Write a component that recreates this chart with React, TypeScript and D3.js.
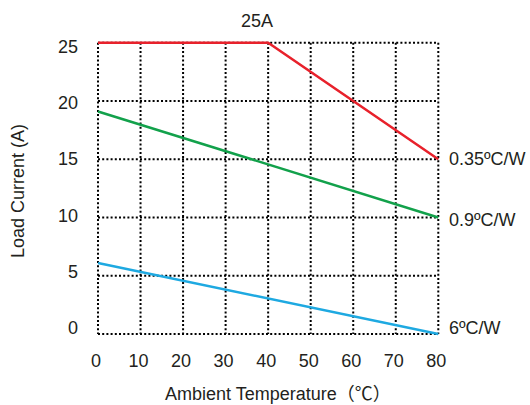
import React from "react";
import * as d3 from "d3";

const temps = [0, 10, 20, 30, 40, 50, 60, 70, 80];
const currentTicks = [0, 5, 10, 15, 20, 25];
const redX = [0, 40, 80];
const redY = [25, 25, 15];
const greenX = [0, 80];
const greenY = [19.1, 10];
const blueX = [0, 80];
const blueY = [6.1, 0];
const seriesLabels = ["0.35ºC/W", "0.9ºC/W", "6ºC/W"];
const title = "25A";

const W = 530, H = 405;
const font = "'Liberation Sans', Arial, 'Noto Sans CJK SC', sans-serif";

export default function App() {
  const x = d3.scaleLinear().domain([0, 80]).range([98, 438.3]);
  const y = d3.scaleLinear().domain([0, 25]).range([334, 42.7]);
  const yLab = d3.scaleLinear().domain([0, 25]).range([328, 47]);
  const line = d3.line<[number, number]>().x(d => x(d[0])).y(d => y(d[1]));
  const series = [
    { xs: redX, ys: redY, color: "#e8212b" },
    { xs: greenX, ys: greenY, color: "#12a14b" },
    { xs: blueX, ys: blueY, color: "#1ea9e1" },
  ];
  const labelY = [y(15), y(10) + 3, y(0) - 6];
  return (
    <svg width={W} height={H} style={{ position: "absolute", left: 0, top: 0, background: "#fff" }}>
      <g stroke="#000" strokeWidth={2} strokeDasharray="2,2.2" fill="none">
        {temps.map(t => (
          <line key={"v" + t} x1={x(t)} x2={x(t)} y1={y(25)} y2={y(0)} />
        ))}
        {currentTicks.map(c => (
          <line key={"h" + c} x1={x(0)} x2={x(80)} y1={y(c)} y2={y(c)} />
        ))}
      </g>
      {series.map((s, i) => (
        <path key={i} d={line(s.xs.map((v, j) => [v, s.ys[j]]) as [number, number][]) || ""}
          stroke={s.color} strokeWidth={2.5} fill="none" />
      ))}
      <g fontFamily={font} fontSize={18} fill="#231f20">
        {currentTicks.map(c => (
          <text key={"yl" + c} x={78} y={yLab(c)} textAnchor="end" dominantBaseline="central">{c}</text>
        ))}
        {temps.map(t => (
          <text key={"xl" + t} x={x(t) - 2} y={361} textAnchor="middle" dominantBaseline="central">{t}</text>
        ))}
        {seriesLabels.map((l, i) => (
          <text key={"sl" + i} x={449} y={labelY[i]} dominantBaseline="central">{l}</text>
        ))}
        <text x={257} y={21} textAnchor="middle" dominantBaseline="central">{title}</text>
        <text x={165} y={394} textAnchor="start" dominantBaseline="central">Ambient Temperature（℃）</text>
        <text transform="translate(18,191) rotate(-90)" textAnchor="middle" dominantBaseline="central">Load Current (A)</text>
      </g>
    </svg>
  );
}
